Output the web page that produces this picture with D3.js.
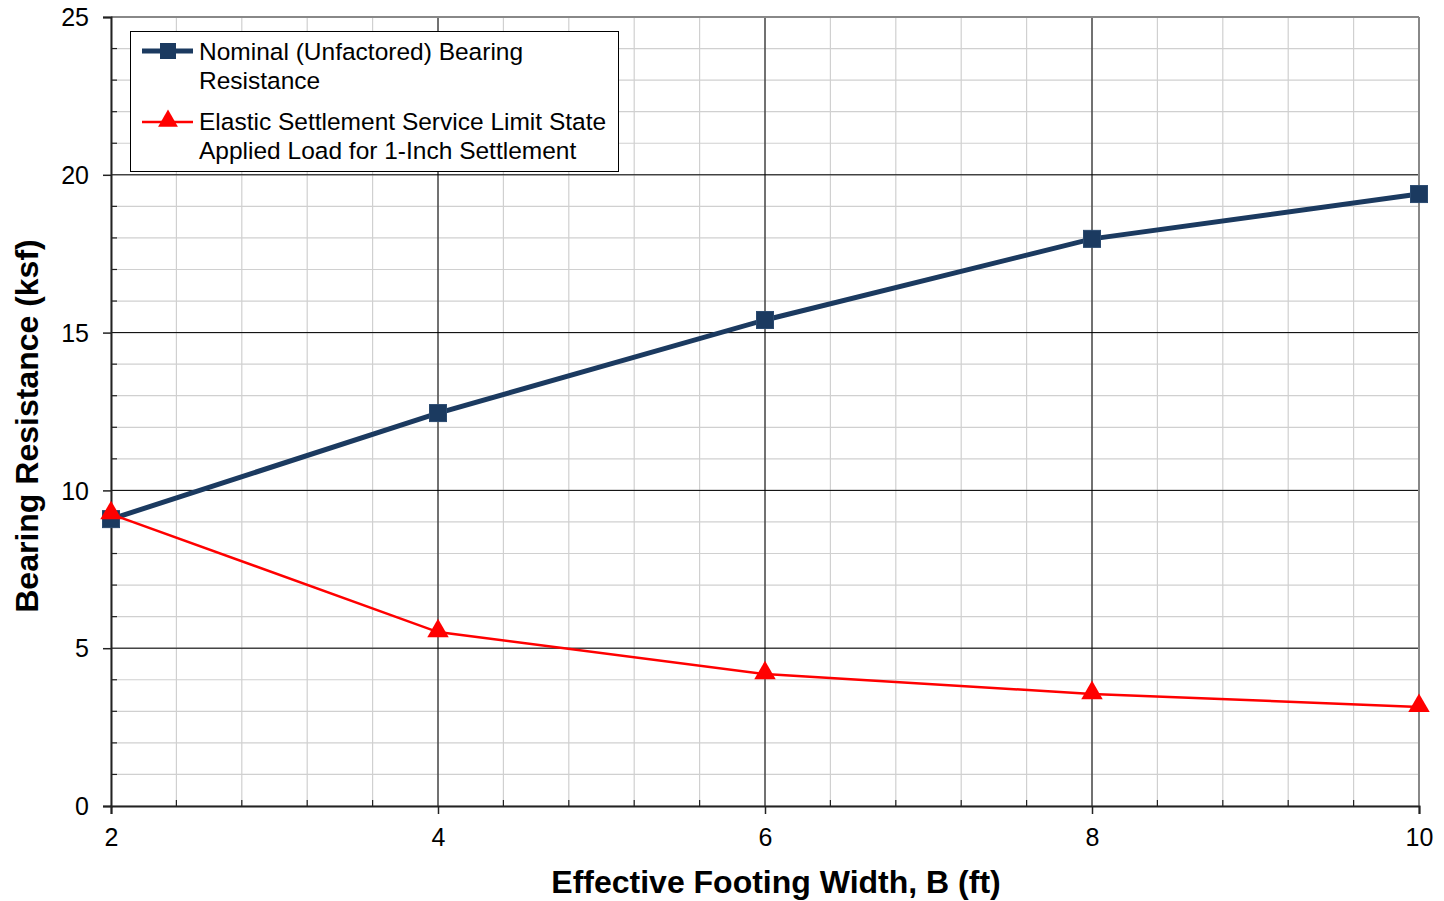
<!DOCTYPE html>
<html>
<head>
<meta charset="utf-8">
<script src="https://cdn.jsdelivr.net/npm/d3@7"></script>
<style>
  body { margin: 0; background: #fff; }
  text { font-family: "Liberation Sans", Arial, sans-serif; }
</style>
</head>
<body>
<svg id="chart" width="1444" height="901"></svg>
<script>
// 資料
const widths = [2, 4, 6, 8, 10];
const nominal = [9.09, 12.45, 15.40, 17.97, 19.39];
const elastic = [9.25, 5.51, 4.18, 3.55, 3.14];
const legendNominal = ["Nominal (Unfactored) Bearing", "Resistance"];
const legendElastic = ["Elastic Settlement Service Limit State", "Applied Load for 1-Inch Settlement"];

const svg = d3.select("#chart");
const m = { left: 111, right: 1419, top: 17, bottom: 806 };

const x = d3.scaleLinear().domain([2, 10]).range([m.left, m.right]);
const y = d3.scaleLinear().domain([0, 25]).range([m.bottom, m.top]);

const xMinor = d3.range(0, 21).map(i => 2 + i * 0.4);
const yMinor = d3.range(0, 26);

// 細格線
const grid = svg.append("g");
grid.selectAll(".vx").data(xMinor).join("line")
  .attr("x1", d => x(d)).attr("x2", d => x(d))
  .attr("y1", m.top).attr("y2", m.bottom)
  .attr("stroke", "#d0d0d0").attr("stroke-width", 1.2);
grid.selectAll(".hy").data(yMinor).join("line")
  .attr("y1", d => y(d)).attr("y2", d => y(d))
  .attr("x1", m.left).attr("x2", m.right)
  .attr("stroke", "#d0d0d0").attr("stroke-width", 1.2);

// 主格線
grid.selectAll(".mx").data([4, 6, 8]).join("line")
  .attr("x1", d => x(d)).attr("x2", d => x(d))
  .attr("y1", m.top).attr("y2", m.bottom)
  .attr("stroke", "#000").attr("stroke-width", 1);
grid.selectAll(".my").data([5, 10, 15, 20]).join("line")
  .attr("y1", d => y(d)).attr("y2", d => y(d))
  .attr("x1", m.left).attr("x2", m.right)
  .attr("stroke", "#000").attr("stroke-width", 1);

// 外框 (上、右灰色)
svg.append("line").attr("x1", m.left).attr("x2", m.right).attr("y1", m.top).attr("y2", m.top)
  .attr("stroke", "#888").attr("stroke-width", 2);
svg.append("line").attr("x1", m.right).attr("x2", m.right).attr("y1", m.top).attr("y2", m.bottom)
  .attr("stroke", "#888").attr("stroke-width", 2);

// 軸
const yAxis = d3.axisLeft(y).tickValues([0, 5, 10, 15, 20, 25]).tickSize(8).tickPadding(14);
const gy = svg.append("g").attr("transform", `translate(${m.left},0)`).call(yAxis);
gy.select(".domain").attr("stroke", "#222").attr("stroke-width", 2);
gy.selectAll(".tick line").attr("stroke", "#222").attr("stroke-width", 1.5);
gy.selectAll(".tick text").attr("font-size", 25).attr("fill", "#000").attr("dy", "0.35em")
  .style("font-family", "Liberation Sans, Arial, sans-serif");

const xAxis = d3.axisBottom(x).tickValues(widths).tickSize(8).tickPadding(14);
const gx = svg.append("g").attr("transform", `translate(0,${m.bottom})`).call(xAxis);
gx.select(".domain").attr("stroke", "#222").attr("stroke-width", 2);
gx.selectAll(".tick line").attr("stroke", "#222").attr("stroke-width", 1.5);
gx.selectAll(".tick text").attr("font-size", 25).attr("fill", "#000")
  .style("font-family", "Liberation Sans, Arial, sans-serif");

// 內側小刻度
svg.append("g").selectAll("line").data(yMinor.filter(d => d % 5 !== 0)).join("line")
  .attr("x1", m.left).attr("x2", m.left + 6)
  .attr("y1", d => y(d)).attr("y2", d => y(d))
  .attr("stroke", "#222").attr("stroke-width", 1.2);
svg.append("g").selectAll("line").data(xMinor.filter((d, i) => i % 5 !== 0)).join("line")
  .attr("x1", d => x(d)).attr("x2", d => x(d))
  .attr("y1", m.bottom).attr("y2", m.bottom - 6)
  .attr("stroke", "#222").attr("stroke-width", 1.2);

// 軸標題
svg.append("text").attr("x", 776).attr("y", 893)
  .attr("text-anchor", "middle").attr("font-size", 32).attr("font-weight", "bold")
  .text("Effective Footing Width, B (ft)");
svg.append("text").attr("transform", `translate(38,426) rotate(-90)`)
  .attr("text-anchor", "middle").attr("font-size", 32).attr("font-weight", "bold")
  .text("Bearing Resistance (ksf)");

// 線
const navy = "#1b3a60";
const red = "#ff0000";
const line = d3.line().x(d => x(d[0])).y(d => y(d[1]));
const nomPts = widths.map((w, i) => [w, nominal[i]]);
const elaPts = widths.map((w, i) => [w, elastic[i]]);

svg.append("path").datum(nomPts).attr("d", line).attr("fill", "none")
  .attr("stroke", navy).attr("stroke-width", 5);
svg.append("g").selectAll("rect").data(nomPts).join("rect")
  .attr("x", d => x(d[0]) - 8.5).attr("y", d => y(d[1]) - 8.5)
  .attr("width", 17).attr("height", 17).attr("fill", navy)
  .attr("stroke", "#2a4a70").attr("stroke-width", 1);

svg.append("path").datum(elaPts).attr("d", line).attr("fill", "none")
  .attr("stroke", red).attr("stroke-width", 2.5);
const tri = d3.symbol().type(d3.symbolTriangle).size(200);
svg.append("g").selectAll("path").data(elaPts).join("path")
  .attr("transform", d => `translate(${x(d[0])},${y(d[1]) - 1})`)
  .attr("d", tri).attr("fill", red);

// 圖例
const lg = svg.append("g");
lg.append("rect").attr("x", 130.5).attr("y", 31.5).attr("width", 488).attr("height", 140)
  .attr("fill", "#fff").attr("stroke", "#000").attr("stroke-width", 1);
lg.append("line").attr("x1", 142).attr("x2", 193).attr("y1", 51).attr("y2", 51)
  .attr("stroke", navy).attr("stroke-width", 5);
lg.append("rect").attr("x", 160).attr("y", 43).attr("width", 16).attr("height", 16).attr("fill", navy);
lg.append("line").attr("x1", 142).attr("x2", 193).attr("y1", 122).attr("y2", 122)
  .attr("stroke", red).attr("stroke-width", 2.5);
lg.append("path").attr("transform", "translate(168,121)").attr("d", d3.symbol().type(d3.symbolTriangle).size(170)).attr("fill", red);

lg.selectAll(".t1").data(legendNominal).join("text")
  .attr("x", 199).attr("y", (d, i) => 60 + i * 29).attr("font-size", 24.5).text(d => d);
lg.selectAll(".t2").data(legendElastic).join("text")
  .attr("x", 199).attr("y", (d, i) => 130 + i * 29).attr("font-size", 24.5).text(d => d);
</script>
</body>
</html>
